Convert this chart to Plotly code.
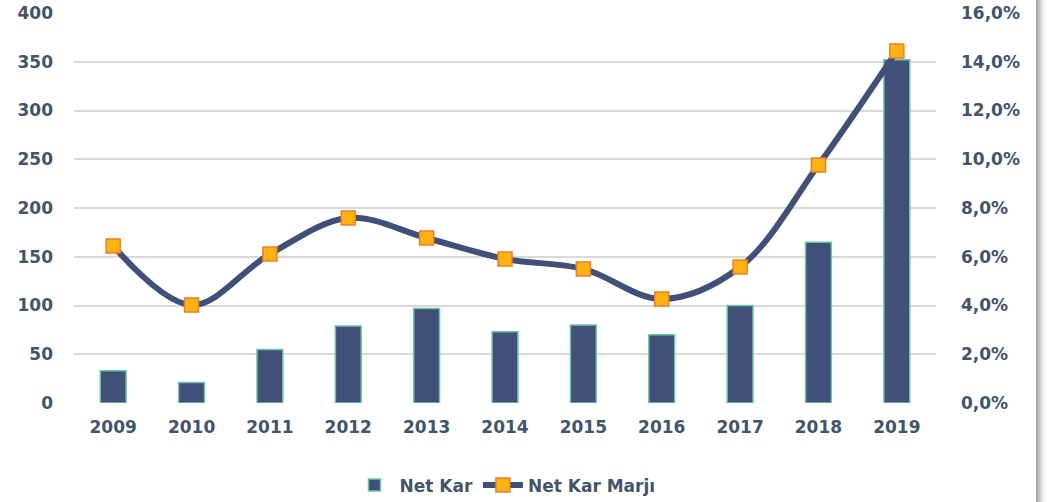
import plotly.graph_objects as go

years = ["2009", "2010", "2011", "2012", "2013", "2014", "2015", "2016", "2017", "2018", "2019"]
net_kar = [33, 21, 55, 79, 97, 73, 80, 70, 100, 165, 352]
net_kar_marji = [0.0644, 0.0402, 0.0611, 0.0759, 0.0677, 0.0591, 0.0550, 0.0427, 0.0558, 0.0976, 0.1444]

left_ticks = [0, 50, 100, 150, 200, 250, 300, 350, 400]
right_ticks = [0.0, 0.02, 0.04, 0.06, 0.08, 0.10, 0.12, 0.14, 0.16]
right_labels = ["0,0%", "2,0%", "4,0%", "6,0%", "8,0%", "10,0%", "12,0%", "14,0%", "16,0%"]

TEXT = "#44546A"
FONT = dict(family="DejaVu Sans", size=17, color=TEXT, weight="bold")

fig = go.Figure()
fig.add_trace(go.Bar(
    x=years, y=net_kar, name="Net Kar",
    marker=dict(color="#415078", line=dict(color="#6CC6A5", width=1.5)),
    width=0.33, yaxis="y",
))
fig.add_trace(go.Scatter(
    x=years, y=net_kar_marji, name="Net Kar Marjı", yaxis="y2",
    mode="lines+markers",
    line=dict(color="#415078", width=6, shape="spline", smoothing=1.0),
    marker=dict(symbol="square", size=14, color="#FFB313",
                line=dict(color="#F07F22", width=1.5)),
))

# right-edge shadow strip
shades = ["#A6A6A6", "#B0B0B0", "#BCBCBC", "#C8C8C8", "#D4D4D4", "#DFDFDF", "#E8E8E8", "#F0F0F0", "#F6F6F6", "#FBFBFB", "#FEFEFE"]
shapes = []
for i, c in enumerate(shades):
    shapes.append(dict(type="rect", xref="paper", yref="paper",
                       x0=(1036 + i - 74) / 862, x1=(1037 + i - 74) / 862,
                       y0=-0.26, y1=1.04, fillcolor=c, line=dict(width=0), layer="above"))

fig.update_layout(
    width=1047, height=502,
    margin=dict(l=74, r=111, t=13, b=99, autoexpand=False),
    plot_bgcolor="white", paper_bgcolor="white",
    font=FONT,
    bargap=0.67,
    showlegend=True,
    legend=dict(orientation="h", x=0.5, xanchor="center", y=-0.165, yanchor="top",
                font=FONT, itemwidth=40, traceorder="normal"),
    xaxis=dict(range=[-0.5, 10.5], showgrid=False, showline=False, ticks="", tickfont=FONT,
               ticklabelstandoff=12, automargin=False),
    yaxis=dict(range=[0, 400], tickvals=left_ticks, showgrid=True,
               gridcolor="#D9D9D9", gridwidth=1.5, zeroline=False,
               tickfont=FONT, ticklabelstandoff=20, automargin=False),
    yaxis2=dict(range=[0, 0.16], tickvals=right_ticks, ticktext=right_labels,
                overlaying="y", side="right", showgrid=False, zeroline=False,
                tickfont=FONT, ticklabelstandoff=24, automargin=False),
    shapes=shapes,
)

fig.write_html("out.html", config={"displayModeBar": False},
               post_script="document.body.style.margin='0';document.body.style.overflow='hidden';")
